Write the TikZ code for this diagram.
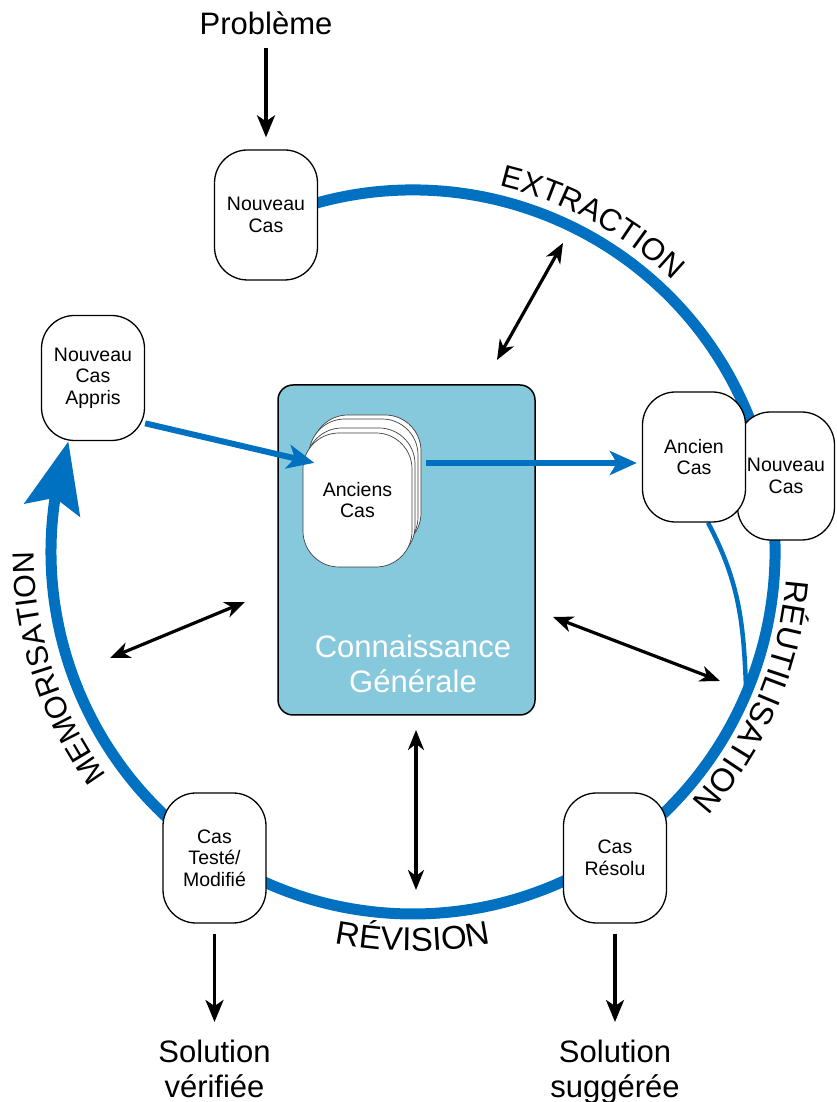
\documentclass[tikz,border=0pt]{standalone}
\usepackage{fontspec}
\setmainfont{Liberation Sans}
\usetikzlibrary{arrows.meta,bending,decorations.text,backgrounds}
\definecolor{cycleblue}{RGB}{0,112,192}
\definecolor{knowblue}{RGB}{134,201,220}

\begin{document}
\begin{tikzpicture}[x=1pt, y=1pt,
    casebox/.style={draw, fill=white, line width=1.3pt, rounded corners=33pt, minimum width=103pt, minimum height=130pt, inner sep=0pt, align=center, font=\fontsize{19.5}{21.5}\selectfont},
    cardbox/.style={draw=black!75, fill=white, line width=0.7pt, rounded corners=36pt, minimum width=109pt, minimum height=134pt, inner sep=0pt, align=center, font=\fontsize{19.5}{21.5}\selectfont},
    bigtext/.style={inner sep=0pt, align=center, font=\fontsize{31}{35}\selectfont},
    downarrow/.style={-{Stealth[length=22pt,width=18pt,inset=6pt]}, line width=3.4pt},
    duoarrow/.style={{Stealth[length=20pt,width=16pt,inset=6pt]}-{Stealth[length=20pt,width=16pt,inset=6pt]}, line width=3.2pt},
    flowarrow/.style={-{Stealth[length=27pt,width=24pt,inset=7pt]}, cycleblue, line width=6pt},
    cycleline/.style={cycleblue, line width=11pt},
    phase/.style 2 args={decorate, decoration={text along path, text align=center, text={|\fontsize{#1}{#1}\selectfont|#2}}}
]
    \useasboundingbox (0,0) rectangle (836,1102);
    \coordinate (ctr) at (413,550);

    % Knowledge base
    \node[draw, fill=knowblue, line width=1.5pt, rounded corners=15pt, minimum width=257pt, minimum height=330pt] (know) at (406.5,552) {};
    \node[bigtext, text=white] (knowtxt) at (413,438) {Connaissance\\Générale};
    \node[cardbox] (anciensd) at (366.5,620) {};
    \node[cardbox] (anciensc) at (363.5,616) {};
    \node[cardbox] (anciensb) at (360.5,607) {};
    \node[cardbox] (anciens) at (357.5,602) {Anciens\\Cas};

    % Cases on the cycle
    \node[casebox] (nouvcas) at (266,887) {Nouveau\\Cas};
    \node[casebox, minimum height=125pt] (appris) at (93,724) {Nouveau\\Cas\\Appris};
    \node[casebox, minimum width=97pt, minimum height=128pt] (nouvcas2) at (786,626) {Nouveau\\Cas};
    \node[casebox] (ancien) at (694,645) {Ancien\\Cas};
    \node[casebox] (teste) at (214.5,244) {Cas\\Testé/\\Modifié};
    \node[casebox] (resolu) at (615,244) {Cas\\Résolu};

    % Inputs and outputs
    \node[bigtext, anchor=base] (prob) at (266,1067) {Problème};
    \node[bigtext, anchor=north] (soluv) at (214.5,62) {Solution\\vérifiée};
    \node[bigtext, anchor=north] (solus) at (615,62) {Solution\\suggérée};

    % Cycle
    \coordinate (join) at ([shift={(-23:362pt)}]ctr);
    \begin{pgfonlayer}{background}
        \draw[cycleline] ([shift={(113.6:362pt)}]ctr) arc[start angle=113.6, end angle=-123, radius=362pt];
        \draw[cycleline, -{Stealth[length=70pt,width=56pt,inset=12pt]}] ([shift={(237:362pt)}]ctr) arc[start angle=237, end angle=162.2, radius=362pt];
        \draw[cycleblue, line width=4.5pt] (ancien.-78) to[out=-62, in=92] (join);
    \end{pgfonlayer}

    % Phase names
    \path[phase={31}{EXTRACTION}] ([shift={(91.5:376pt)}]ctr) arc[start angle=91.5, end angle=31.5, radius=376pt];
    \path[phase={32.5}{RÉUTILISATION}] ([shift={(7:374pt)}]ctr) arc[start angle=7, end angle=-53, radius=374pt];
    \path[phase={33}{RÉVISION}] ([shift={(240:399pt)}]ctr) arc[start angle=240, end angle=300, radius=399pt];
    \path[phase={30.5}{MEMORISATION}] ([shift={(228:379pt)}]ctr) arc[start angle=228, end angle=168, radius=379pt];

    % Arrows
    \draw[downarrow, shorten <=13pt, shorten >=12pt] (prob.south) -- (nouvcas.north);
    \draw[downarrow, shorten <=10pt, shorten >=18pt] (teste.south) -- (soluv.north);
    \draw[downarrow, shorten <=10pt, shorten >=18pt] (resolu.south) -- (solus.north);
    \draw[flowarrow, shorten >=-12pt] (appris.-41) -- (anciens.144);
    \coordinate (a2) at ([yshift=-6pt]ancien.west);
    \draw[flowarrow, shorten <=5pt, shorten >=5pt] (anciensd.east |- a2) -- (a2);

    % Exchanges with the knowledge base
    \coordinate (ext1) at (497,742);
    \coordinate (ext2) at (563,859);
    \coordinate (mem1) at (110,444);
    \coordinate (mem2) at (245,500);
    \coordinate (reu1) at (553,485);
    \coordinate (reu2) at (720,421);
    \coordinate (rev1) at (416,372);
    \coordinate (rev2) at (416,212);
    \draw[duoarrow] (ext1) -- (ext2);
    \draw[duoarrow] (mem1) -- (mem2);
    \draw[duoarrow] (reu1) -- (reu2);
    \draw[duoarrow] (rev1) -- (rev2);
\end{tikzpicture}
\end{document}
